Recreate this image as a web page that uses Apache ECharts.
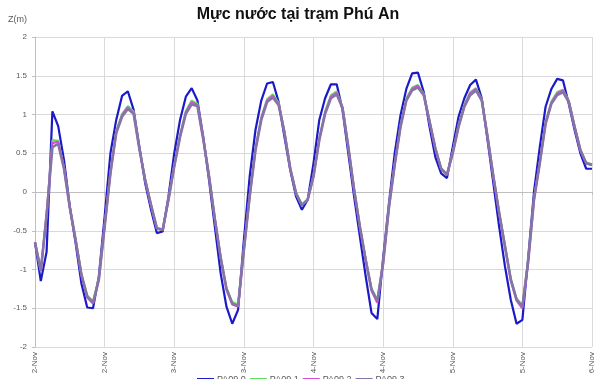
<!DOCTYPE html>
<html>
<head>
<meta charset="utf-8">
<script src="https://cdn.jsdelivr.net/npm/echarts@6/dist/echarts.min.js"></script>
<style>
html,body{margin:0;padding:0;background:#fff;}
#c{width:596px;height:379px;}
</style>
</head>
<body>
<div id="c"></div>
<script>
// Tick labels every 12 hours (category index 0,12,...,96)
const tickLabels = ["2-Nov","2-Nov","3-Nov","3-Nov","4-Nov","4-Nov","5-Nov","5-Nov","6-Nov"];
const seriesNames = ["PA09.0","PA09.1","PA09.2","PA09.3"];

const pa090 = [-0.65,-1.15,-0.77,1.04,0.85,0.41,-0.19,-0.66,-1.18,-1.49,-1.50,-1.09,-0.32,0.50,0.93,1.24,1.30,1.06,0.58,0.11,-0.23,-0.53,-0.51,-0.06,
  0.50,0.93,1.23,1.34,1.18,0.71,0.15,-0.45,-1.05,-1.48,-1.70,-1.52,-0.62,0.20,0.80,1.18,1.40,1.42,1.16,0.71,0.28,-0.06,-0.23,-0.10,
  0.37,0.93,1.21,1.39,1.39,1.06,0.50,-0.06,-0.58,-1.09,-1.56,-1.64,-0.85,-0.15,0.50,0.99,1.33,1.53,1.54,1.29,0.84,0.45,0.24,0.18,
  0.58,0.97,1.21,1.38,1.45,1.21,0.67,0.11,-0.45,-0.96,-1.39,-1.70,-1.65,-0.85,0.00,0.58,1.10,1.33,1.46,1.44,1.14,0.80,0.50,0.30,0.30];

const pa091 = [-0.65,-1.00,-0.28,0.67,0.66,0.32,-0.19,-0.61,-1.05,-1.33,-1.41,-1.11,-0.43,0.26,0.79,1.01,1.11,1.04,0.57,0.16,-0.16,-0.46,-0.48,-0.09,
  0.35,0.74,1.05,1.18,1.14,0.70,0.21,-0.34,-0.83,-1.23,-1.42,-1.45,-0.73,-0.04,0.57,0.97,1.20,1.26,1.15,0.78,0.31,-0.01,-0.16,-0.09,
  0.22,0.70,1.04,1.25,1.30,1.10,0.59,0.04,-0.44,-0.86,-1.24,-1.39,-0.90,-0.18,0.37,0.87,1.21,1.35,1.38,1.27,0.92,0.57,0.31,0.23,
  0.52,0.87,1.13,1.29,1.34,1.20,0.72,0.21,-0.26,-0.69,-1.11,-1.37,-1.46,-0.88,-0.08,0.39,0.91,1.17,1.29,1.32,1.18,0.85,0.55,0.38,0.36];

const pa092 = [-0.65,-1.01,-0.29,0.63,0.65,0.31,-0.20,-0.62,-1.07,-1.36,-1.44,-1.13,-0.44,0.25,0.77,0.99,1.09,1.02,0.56,0.15,-0.17,-0.47,-0.49,-0.10,
  0.34,0.72,1.03,1.16,1.12,0.69,0.20,-0.35,-0.85,-1.26,-1.45,-1.48,-0.75,-0.05,0.55,0.95,1.18,1.24,1.13,0.77,0.30,-0.02,-0.17,-0.10,
  0.21,0.68,1.02,1.23,1.28,1.09,0.58,0.03,-0.45,-0.88,-1.27,-1.43,-0.92,-0.20,0.36,0.85,1.19,1.33,1.37,1.26,0.91,0.56,0.30,0.22,
  0.51,0.85,1.11,1.27,1.33,1.19,0.71,0.20,-0.27,-0.70,-1.14,-1.40,-1.50,-0.90,-0.10,0.38,0.89,1.15,1.27,1.31,1.17,0.84,0.54,0.37,0.35];

const pa093 = [-0.65,-1.02,-0.30,0.58,0.62,0.30,-0.20,-0.62,-1.07,-1.35,-1.43,-1.13,-0.45,0.24,0.76,0.97,1.07,1.01,0.55,0.15,-0.17,-0.47,-0.49,-0.10,
  0.33,0.71,1.01,1.13,1.11,0.68,0.20,-0.35,-0.85,-1.25,-1.44,-1.47,-0.75,-0.06,0.54,0.93,1.16,1.22,1.12,0.76,0.30,-0.02,-0.17,-0.10,
  0.20,0.67,1.01,1.21,1.26,1.08,0.58,0.03,-0.45,-0.88,-1.26,-1.41,-0.92,-0.20,0.35,0.84,1.18,1.31,1.35,1.25,0.91,0.56,0.30,0.22,
  0.50,0.84,1.10,1.25,1.31,1.18,0.71,0.20,-0.27,-0.70,-1.13,-1.39,-1.48,-0.90,-0.10,0.37,0.88,1.14,1.25,1.29,1.16,0.84,0.54,0.37,0.35];

// hourly category keys (index of hour)
const hours = pa090.map((_, i) => String(i));

const colors = ["#1a1ac8", "#5ee05e", "#d94ad9", "#8673a8"];
const widths = [2.2, 2, 2.2, 2.6];
const dataSets = [pa090, pa091, pa092, pa093];

const chart = echarts.init(document.getElementById('c'), null, {renderer: 'canvas'});
chart.setOption({
  animation: false,
  backgroundColor: '#ffffff',
  title: {
    text: 'Mực nước tại trạm Phú An',
    left: 'center',
    top: 7,
    padding: 0,
    textStyle: {fontFamily: 'Liberation Sans', fontSize: 16, fontWeight: 'bold', color: '#111'}
  },
  legend: {
    data: seriesNames,
    left: 197,
    top: 375,
    padding: 0,
    itemGap: 4,
    itemWidth: 17,
    itemHeight: 3,
    icon: 'rect',
    textStyle: {fontFamily: 'Liberation Sans', fontSize: 9, color: '#595959', padding: [0,0,0,-2]}
  },
  grid: {left: 35, right: -2.5, top: 37, bottom: 32, containLabel: false},
  xAxis: {
    type: 'category',
    data: hours,
    boundaryGap: false,
    axisLine: {show: true, lineStyle: {color: '#bfbfbf', width: 1}},
    axisTick: {show: true, interval: 11, length: 3, lineStyle: {color: '#bfbfbf'}},
    splitLine: {show: true, interval: 11, lineStyle: {color: '#d9d9d9', width: 1}},
    axisLabel: {
      interval: 11,
      rotate: 90,
      margin: 5,
      fontFamily: 'Liberation Sans',
      fontSize: 8,
      color: '#595959',
      formatter: function (v, i) { return tickLabels[Math.round(i / 12)] || ''; }
    }
  },
  yAxis: {
    type: 'value',
    min: -2,
    max: 2,
    interval: 0.5,
    name: 'Z(m)',
    nameLocation: 'end',
    nameGap: 13,
    nameTextStyle: {fontFamily: 'Liberation Sans', fontSize: 9, color: '#595959', align: 'right', padding: [0, 8, 0, 0]},
    axisLine: {show: true, lineStyle: {color: '#bfbfbf', width: 1}},
    axisTick: {show: true, length: 3, lineStyle: {color: '#bfbfbf'}},
    splitLine: {show: true, lineStyle: {color: '#d9d9d9', width: 1}},
    axisLabel: {fontFamily: 'Liberation Sans', fontSize: 8, color: '#595959', margin: 8}
  },
  series: dataSets.map((d, k) => ({
    name: seriesNames[k],
    type: 'line',
    data: d,
    symbol: 'none',
    smooth: false,
    lineStyle: {color: colors[k], width: widths[k]},
    itemStyle: {color: colors[k]},
    z: 2 + k
  }))
});
</script>
</body>
</html>
